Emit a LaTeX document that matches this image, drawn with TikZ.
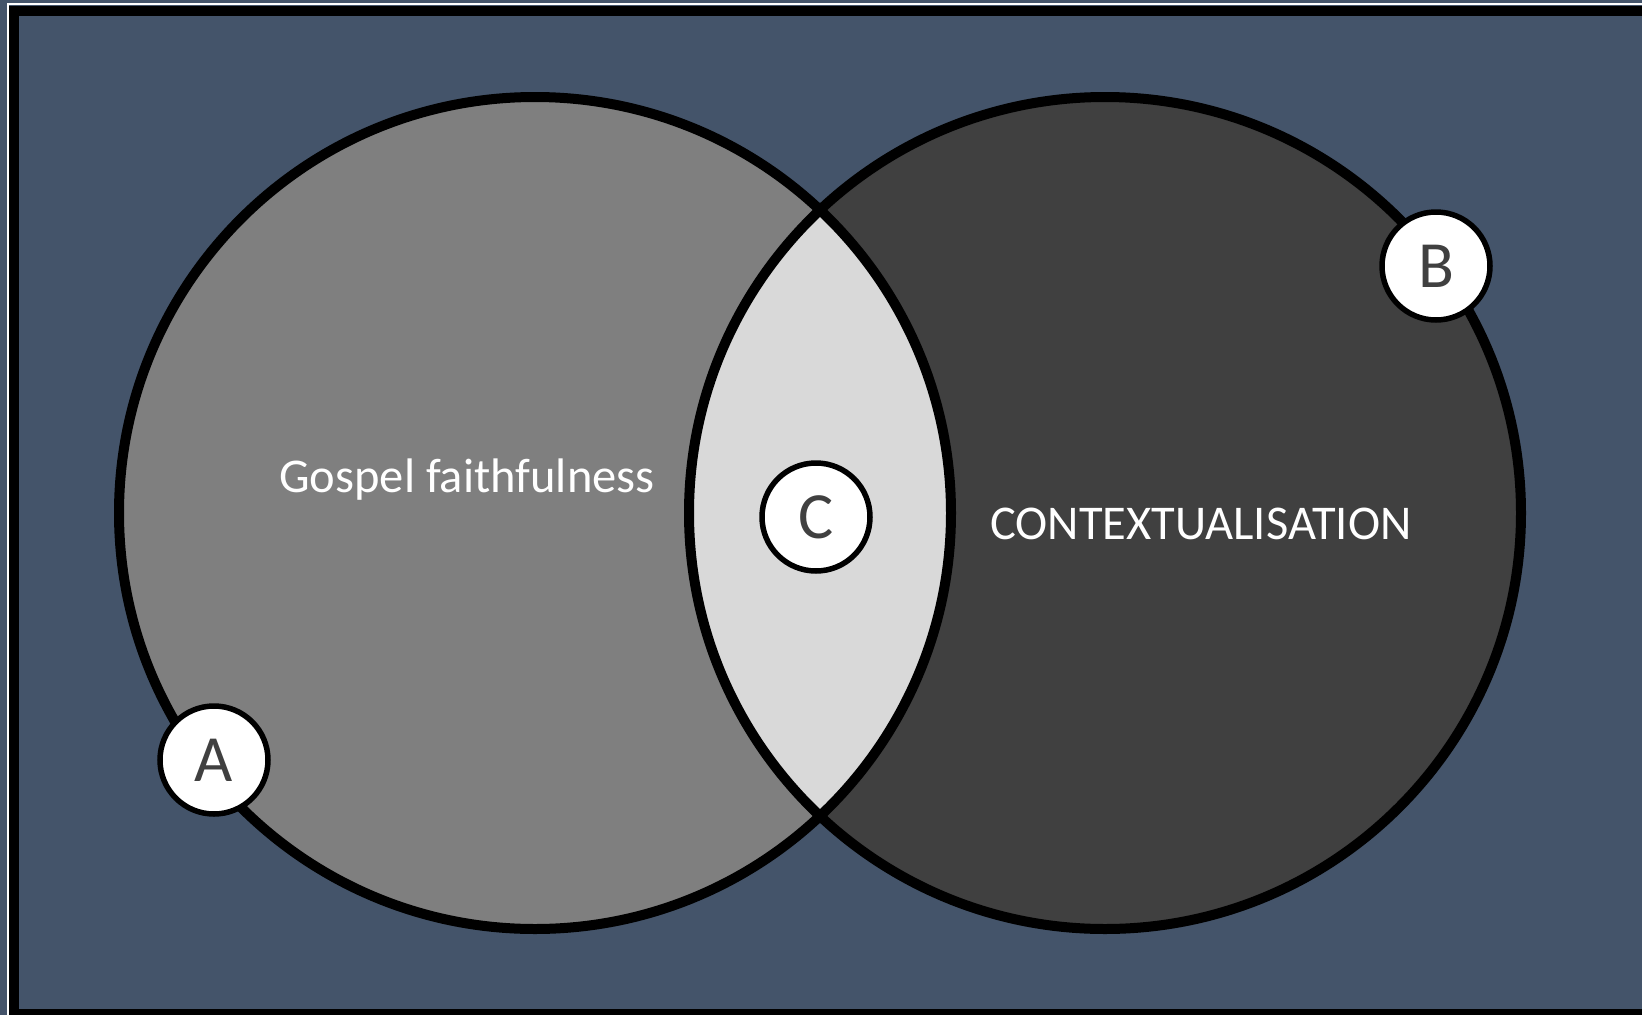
\documentclass[tikz,border=0pt]{standalone}
\usepackage{fontspec}
\setmainfont{Carlito}
\definecolor{bgblue}{HTML}{44546A}
\definecolor{leftgray}{HTML}{7F7F7F}
\definecolor{rightgray}{HTML}{404040}
\definecolor{lensgray}{HTML}{D9D9D9}
\definecolor{lettergray}{HTML}{404040}
\begin{document}
\begin{tikzpicture}[x=1pt,y=-1pt,
  setring/.style={line width=10pt, draw=black},
  badge/.style={circle, fill=white, draw=black, line width=5.5pt, minimum size=108pt, inner sep=0pt,
    text=lettergray, font=\fontsize{66}{72}\selectfont},
  setlabel/.style={text=white, font=\fontsize{48.5}{54}\selectfont, inner sep=0pt}]
\useasboundingbox (0,0) rectangle (1642,1015);
\clip (0,0) rectangle (1642,1015);
\fill[bgblue] (0,0) rectangle (1642,1015);
\draw[white, line width=1.5pt] (8,4) rectangle (1700,1100);
\draw[black, line width=10pt] (14,11) rectangle (1700,1014);
% circles
\coordinate (lc) at (535,513);
\coordinate (rc) at (1105,513);
\fill[leftgray] (lc) circle (416);
\fill[rightgray] (rc) circle (416);
\begin{scope}
  \clip (lc) circle (416);
  \fill[lensgray] (rc) circle (416);
\end{scope}
\draw[setring] (lc) circle (416);
\draw[setring] (rc) circle (416);
% labels
\node[setlabel] (gf) at (467,480) {Gospel faithfulness};
\node[setlabel] (ctx) at (1201,524) {CONTEXTUALISATION};
% badges
\node[badge] (A) at (214,760) {A};
\node[badge] (B) at (1436,266) {B};
\node[badge] (C) at (816,517) {C};
\end{tikzpicture}
\end{document}
